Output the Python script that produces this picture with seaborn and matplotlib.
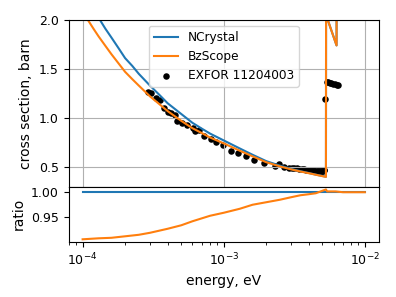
import numpy as np
import matplotlib
matplotlib.use("Agg")
import matplotlib.pyplot as plt
import seaborn as sns

# model curves (energy in eV, cross section in barn)
energy = [1.0e-4, 1.1e-4, 1.2e-4, 1.3e-4, 1.45e-4, 1.6e-4, 1.8e-4, 2.0e-4, 2.25e-4,
          2.5e-4, 3.0e-4, 3.5e-4, 4.0e-4, 5.0e-4, 6.0e-4, 7.0e-4, 8.0e-4, 1.0e-3,
          1.3e-3, 1.6e-3, 2.0e-3, 2.5e-3, 3.0e-3, 3.5e-3, 4.0e-3, 4.5e-3, 5.3e-3,
          5.31e-3, 6.3e-3, 6.32e-3, 1.0e-2]
ncrystal = [2.30, 2.19, 2.10, 2.02, 1.91, 1.82, 1.71, 1.61, 1.53,
            1.45, 1.33, 1.235, 1.15, 1.04, 0.95, 0.89, 0.84, 0.77,
            0.688, 0.624, 0.559, 0.513, 0.48, 0.456, 0.438, 0.421, 0.40,
            2.05, 1.74, 3.0, 2.6]
bzscope = [2.08, 1.99, 1.905, 1.83, 1.735, 1.65, 1.555, 1.47, 1.395,
           1.33, 1.22, 1.14, 1.07, 0.97, 0.895, 0.845, 0.80, 0.74,
           0.665, 0.608, 0.548, 0.505, 0.475, 0.453, 0.436, 0.42, 0.398,
           2.05, 1.74, 3.0, 2.6]

# ratio BzScope / NCrystal
ratio_energy = [1.0e-4, 1.3e-4, 1.6e-4, 2.0e-4, 2.5e-4, 3.0e-4, 4.0e-4, 5.0e-4,
                6.0e-4, 8.0e-4, 1.0e-3, 1.3e-3, 1.6e-3, 2.0e-3, 2.5e-3, 3.0e-3, 3.5e-3,
                4.0e-3, 4.5e-3, 5.3e-3, 5.4e-3, 6.2e-3, 7.0e-3, 1.0e-2]
ratio_bz = [0.906, 0.908, 0.909, 0.912, 0.915, 0.919, 0.927, 0.934,
            0.942, 0.953, 0.959, 0.967, 0.975, 0.980, 0.985, 0.990, 0.994,
            0.996, 0.998, 1.0056, 1.0016, 1.0016, 1.0, 1.0]
ratio_nc_energy = [1.0e-4, 1.0e-2]
ratio_nc = [1.0, 1.0]

# EXFOR 11204003 measurement
exfor_energy = [2.90e-4, 3.07e-4, 3.32e-4, 3.51e-4, 3.80e-4, 4.02e-4, 4.25e-4, 4.48e-4,
                4.70e-4, 5.10e-4, 5.53e-4, 6.03e-4, 6.21e-4, 6.73e-4, 7.30e-4, 8.18e-4,
                8.87e-4, 9.84e-4, 1.13e-3, 1.26e-3, 1.44e-3, 1.65e-3, 1.94e-3, 2.29e-3,
                2.48e-3, 2.69e-3, 2.92e-3, 3.05e-3, 3.16e-3, 3.30e-3, 3.44e-3, 3.58e-3,
                3.72e-3, 3.81e-3, 3.90e-3, 3.97e-3, 4.04e-3, 4.14e-3, 4.25e-3, 4.32e-3,
                4.39e-3, 4.47e-3, 4.55e-3, 4.65e-3, 4.75e-3, 4.82e-3, 4.90e-3, 4.98e-3,
                5.05e-3, 5.11e-3, 5.16e-3, 5.25e-3, 5.38e-3, 5.52e-3, 5.66e-3, 5.80e-3,
                5.95e-3, 6.12e-3, 6.30e-3, 6.50e-3]
exfor_xs = [1.26, 1.25, 1.20, 1.18, 1.10, 1.065, 1.045, 1.025,
            0.97, 0.945, 0.925, 0.90, 0.865, 0.88, 0.815, 0.785,
            0.755, 0.727, 0.66, 0.642, 0.608, 0.572, 0.542, 0.508,
            0.525, 0.497, 0.492, 0.492, 0.49, 0.484, 0.48, 0.477,
            0.474, 0.472, 0.47, 0.469, 0.467, 0.466, 0.465, 0.464,
            0.463, 0.462, 0.462, 0.461, 0.461, 0.461, 0.462, 0.462,
            0.463, 0.464, 0.466, 1.19, 1.365, 1.365, 1.36, 1.355,
            1.35, 1.345, 1.34, 1.335]

plt.rcParams['font.size'] = 9
plt.rcParams['axes.labelsize'] = 10
plt.rcParams['xtick.labelsize'] = 9
plt.rcParams['ytick.labelsize'] = 9
plt.rcParams['legend.fontsize'] = 8.7

fig = plt.figure(figsize=(3.96, 2.97), dpi=100)
gs = fig.add_gridspec(2, 1, height_ratios=[3, 1], hspace=0,
                      left=0.173, right=0.957, top=0.933, bottom=0.185)
ax = fig.add_subplot(gs[0])
axr = fig.add_subplot(gs[1], sharex=ax)

sns.lineplot(x=energy, y=ncrystal, ax=ax, color='C0', label='NCrystal',
             sort=False, estimator=None)
sns.lineplot(x=energy, y=bzscope, ax=ax, color='C1', label='BzScope',
             sort=False, estimator=None)
sns.scatterplot(x=exfor_energy, y=exfor_xs, ax=ax, color='k', s=22,
                linewidth=0, label='EXFOR 11204003')

ax.set_xscale('log')
ax.set_xlim(10**-4.1, 10**-1.9)
ax.set_ylim(0.3, 2.0)
ax.set_yticks([0.5, 1.0, 1.5, 2.0])
ax.grid(True)
ax.set_ylabel('cross section, barn')
ax.tick_params(labelbottom=False)
ax.legend(loc='upper center')

sns.lineplot(x=ratio_nc_energy, y=ratio_nc, ax=axr, color='C0',
             sort=False, estimator=None)
sns.lineplot(x=ratio_energy, y=ratio_bz, ax=axr, color='C1',
             sort=False, estimator=None)
axr.set_ylim(0.9005, 1.0114)
axr.set_yticks([0.95, 1.00])
axr.set_ylabel('ratio')
axr.set_xlabel('energy, eV')

fig.savefig('out.png', dpi=100)
